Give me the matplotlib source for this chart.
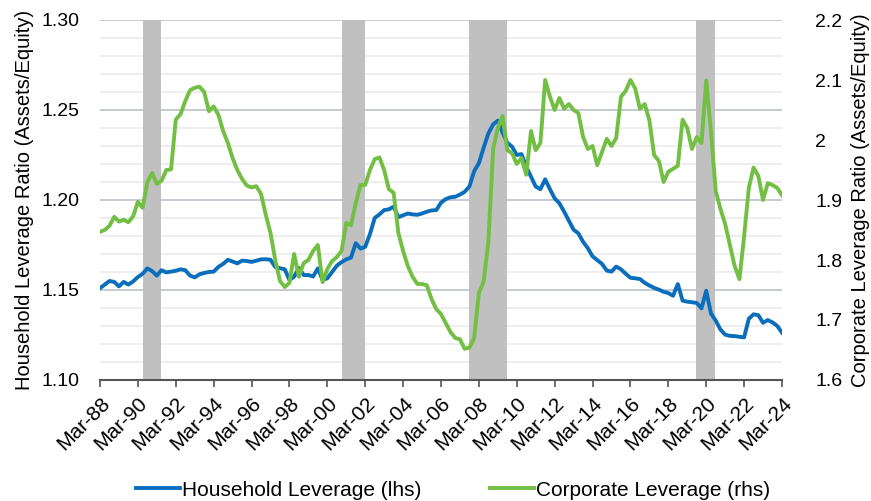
import numpy as np
import pandas as pd
import matplotlib
matplotlib.use("Agg")
import matplotlib.pyplot as plt
from matplotlib.ticker import FuncFormatter

plt.rcParams['font.family'] = ['Liberation Sans', 'DejaVu Sans']

# quarterly observations, Mar-88 .. Mar-24
dates = pd.date_range("1988-03-31", periods=145, freq="QE")

household = [
    1.151, 1.153, 1.155, 1.1545, 1.152, 1.1545, 1.153, 1.1548, 1.1572, 1.159,
    1.162, 1.1605, 1.158, 1.161, 1.1598, 1.1602, 1.1607, 1.1615, 1.161, 1.158,
    1.157, 1.1587, 1.1595, 1.160, 1.1602, 1.1628, 1.1645, 1.1668, 1.1658, 1.1648,
    1.1663, 1.1661, 1.1656, 1.1663, 1.167, 1.1671, 1.1668, 1.1628, 1.1621, 1.1615,
    1.1556, 1.1574, 1.1622, 1.1583, 1.1583, 1.1575, 1.162, 1.1556, 1.1565, 1.160,
    1.1635, 1.1655, 1.167, 1.168, 1.176, 1.173, 1.174, 1.181, 1.190, 1.192,
    1.1944, 1.1948, 1.1963, 1.1905, 1.1915, 1.1925, 1.192, 1.1918, 1.1925, 1.1935,
    1.1942, 1.1944, 1.1985, 1.2005, 1.2015, 1.2018, 1.203, 1.2045, 1.2075, 1.216,
    1.2205, 1.229, 1.237, 1.242, 1.2441, 1.2375, 1.2318, 1.2296, 1.225, 1.2255,
    1.2185, 1.2129, 1.2075, 1.206, 1.2115, 1.206, 1.2009, 1.1982, 1.1935, 1.1885,
    1.1835, 1.1815, 1.1768, 1.1732, 1.1687, 1.1666, 1.1645, 1.1608, 1.1602, 1.163,
    1.1615, 1.159, 1.1568, 1.1565, 1.1561, 1.154, 1.1525, 1.1512, 1.1502, 1.149,
    1.1483, 1.1468, 1.1533, 1.1441, 1.1435, 1.1432, 1.1428, 1.1398, 1.1496, 1.137,
    1.133, 1.128, 1.1252, 1.1245, 1.1244, 1.124, 1.1237, 1.134, 1.1365, 1.136,
    1.1318, 1.1333, 1.132, 1.130, 1.1263,
]

corporate = [
    1.847, 1.850, 1.857, 1.872, 1.864, 1.867, 1.863, 1.873, 1.897, 1.887,
    1.930, 1.945, 1.927, 1.932, 1.950, 1.951, 2.034, 2.043, 2.065, 2.083,
    2.087, 2.089, 2.080, 2.048, 2.056, 2.042, 2.015, 1.995, 1.970, 1.950,
    1.935, 1.924, 1.921, 1.923, 1.910, 1.875, 1.845, 1.800, 1.765, 1.755,
    1.762, 1.810, 1.772, 1.795, 1.800, 1.815, 1.825, 1.763, 1.785, 1.798,
    1.805, 1.815, 1.862, 1.858, 1.895, 1.925, 1.925, 1.950, 1.968, 1.971,
    1.950, 1.918, 1.912, 1.845, 1.815, 1.790, 1.772, 1.760, 1.760, 1.758,
    1.735, 1.718, 1.710, 1.695, 1.680, 1.670, 1.668, 1.652, 1.654, 1.670,
    1.745, 1.764, 1.830, 1.985, 2.020, 2.040, 1.983, 1.978, 1.960, 1.970,
    1.942, 2.015, 1.983, 1.995, 2.100, 2.072, 2.050, 2.070, 2.052, 2.060,
    2.050, 2.045, 2.005, 1.985, 1.990, 1.958, 1.980, 2.002, 1.990, 2.003,
    2.072, 2.082, 2.100, 2.086, 2.052, 2.060, 2.033, 1.975, 1.965, 1.930,
    1.947, 1.952, 1.957, 2.034, 2.020, 1.985, 2.005, 1.995, 2.099, 2.015,
    1.915, 1.885, 1.860, 1.825, 1.790, 1.768, 1.839, 1.920, 1.954, 1.940,
    1.900, 1.928, 1.925, 1.920, 1.908,
]

recessions = [
    ("1990-07-10", "1991-06-20"),
    ("2001-01-10", "2002-03-25"),
    ("2007-09-20", "2009-09-30"),
    ("2019-09-20", "2020-09-20"),
]

blue = '#0a6ebd'
green = '#72bf44'

fig = plt.figure(figsize=(8.71, 5.01), dpi=100)
ax = fig.add_axes([100/871, 1 - 380/501, 682/871, 360/501])
ax2 = ax.twinx()

# recession shading
for start, end in recessions:
    ax.axvspan(pd.Timestamp(start), pd.Timestamp(end), color='#c0c0c0', lw=0, zorder=1)

ax.set_ylim(1.10, 1.30)
ax2.set_ylim(1.6, 2.2)
ax.set_xlim(dates[0], dates[-1])

# gridlines: light every 0.01, darker every 0.05
for v in np.arange(1.10, 1.3001, 0.01):
    major = abs(round(v * 100) % 5) == 0
    ax.axhline(v, color='#c6cbd3' if major else '#eeeeee', lw=1.4, zorder=0)

l1, = ax.plot(dates, household, color=blue, lw=2.8, zorder=3,
              solid_joinstyle='round', label='Household Leverage (lhs)')
l2, = ax2.plot(dates, corporate, color=green, lw=2.8, zorder=3,
               solid_joinstyle='round', label='Corporate Leverage (rhs)')

ax.set_yticks(np.arange(1.10, 1.301, 0.05))
ax.yaxis.set_major_formatter(FuncFormatter(lambda v, p: f'{v:.2f}'))
ax2.set_yticks(np.arange(1.6, 2.201, 0.1))
ax2.yaxis.set_major_formatter(FuncFormatter(lambda v, p: f'{round(v, 1):g}'))

tick_dates = [d for d in dates if d.month == 3 and d.year % 2 == 0]
ax.set_xticks(tick_dates)
ax.set_xticklabels([d.strftime('Mar-%y') for d in tick_dates], rotation=45,
                   ha='right', rotation_mode='anchor', fontsize=15)

for a in (ax, ax2):
    for s in ('top', 'left', 'right'):
        a.spines[s].set_visible(False)
    a.spines['bottom'].set_color('#555555')
    a.spines['bottom'].set_linewidth(1.5)
ax2.spines['bottom'].set_visible(False)

ax.tick_params(axis='y', length=0, labelsize=14, pad=15)
ax2.tick_params(axis='y', length=0, labelsize=14, pad=24)
ax.tick_params(axis='x', length=5, width=1.2, color='#555555', pad=5)

ax.set_ylabel('Household Leverage Ratio (Assets/Equity)', fontsize=14.5, labelpad=5)
ax2.set_ylabel('Corporate Leverage Ratio (Assets/Equity)', fontsize=14.5, labelpad=6)

ax.set_zorder(ax2.get_zorder() - 1)
ax.patch.set_visible(False)
ax2.patch.set_visible(False)

fig.legend(handles=[l1, l2], loc='lower center', bbox_to_anchor=(0.52, -0.035),
           ncol=2, frameon=False, fontsize=15, handlelength=2.1,
           columnspacing=3.3, handletextpad=0.1)

fig.savefig('out.png', dpi=100)
